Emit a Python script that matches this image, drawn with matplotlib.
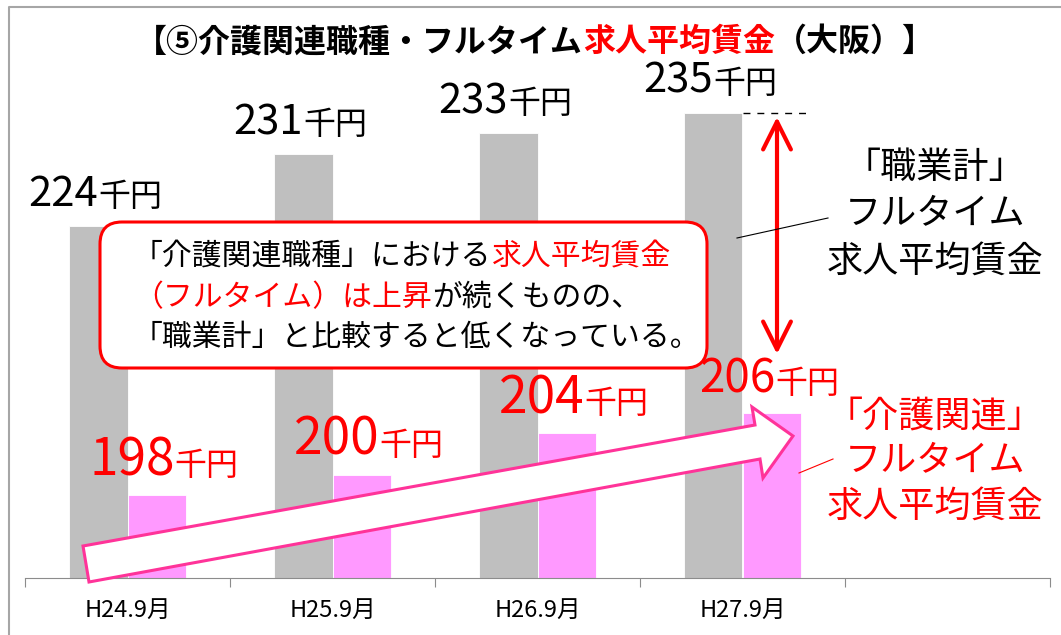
import matplotlib
matplotlib.use('Agg')
import matplotlib.pyplot as plt
from matplotlib.transforms import Affine2D
from matplotlib.patches import Polygon, FancyBboxPatch
from matplotlib.lines import Line2D
import numpy as np

plt.rcParams['font.family'] = ['Noto Sans CJK JP', 'DejaVu Sans']

# data
periods = ['H24.9月', 'H25.9月', 'H26.9月', 'H27.9月', '']
wage_all = [224, 231, 233, 235]   # 職業計 フルタイム (千円)
wage_care = [198, 200, 204, 206]  # 介護関連 フルタイム (千円)
unit = '千円'

RED = '#FF0000'
GRAY = '#BFBFBF'
PINK = '#FF99FF'

W, H = 1061, 635
fig = plt.figure(figsize=(W / 100, H / 100), dpi=100)
# pixel coords, origin top-left
PX = Affine2D().scale(1, -1).translate(0, H)

ax = fig.add_axes([25 / W, (H - 578) / H, 1025 / W, 517 / H])
x = np.arange(len(wage_all))
bw = 0.283
ax.bar(x - bw / 2, wage_all, bw, color=GRAY, edgecolor='white', lw=0.6, zorder=2)
ax.bar(x + bw / 2, wage_care, bw, color=PINK, edgecolor='white', lw=0.6, zorder=2)
ax.set_xlim(-0.5, len(periods) - 0.5)
ax.set_ylim(190, 240)
ax.patch.set_alpha(0)

for s in ['left', 'top', 'right']:
    ax.spines[s].set_visible(False)
ax.spines['bottom'].set_color('#8C8C8C')
ax.spines['bottom'].set_zorder(3)
ax.set_yticks([])
ax.set_xticks(np.arange(len(periods) + 1) - 0.5)
ax.set_xticklabels([])
ax.tick_params(axis='x', which='major', length=6.5, color='#8C8C8C')
ax.set_xticks(np.arange(len(periods)), minor=True)
ax.set_xticklabels(periods, minor=True)
ax.tick_params(axis='x', which='minor', length=0, pad=15, labelsize=17)

# value labels
for i, v in enumerate(wage_all):
    ax.annotate(str(v), (i - bw / 2, v), xytext=(-1, 20), textcoords='offset pixels',
                ha='right', va='baseline', fontsize=30)
    ax.annotate(unit, (i - bw / 2, v), xytext=(0, 20), textcoords='offset pixels',
                ha='left', va='baseline', fontsize=23)
care_dx = [18, 18, 18, 4]
care_fs = [37, 37, 37, 33]
for i, v in enumerate(wage_care):
    ax.annotate(str(v), (i + bw / 2, v), xytext=(care_dx[i], 20), textcoords='offset pixels',
                ha='right', va='baseline', fontsize=care_fs[i], color=RED)
    ax.annotate(unit, (i + bw / 2, v), xytext=(care_dx[i], 20), textcoords='offset pixels',
                ha='left', va='baseline', fontsize=23, color=RED)

# dashed level line at top of last gray bar
ax.hlines(wage_all[-1], len(wage_all) - 1, len(wage_all) - 1 + 0.32,
          colors='black', linestyles=(0, (5, 5)), lw=1)

# outer frame (only top/left visible)
fig.add_artist(Line2D([9, 9, W], [H, 7, 7], transform=PX, color='#A6A6A6', lw=1.5))

renderer = fig.canvas.get_renderer()


def rich_text(x0, y0, pieces, **kw):
    # pieces drawn one after another on the same baseline
    for s, c in pieces:
        t = fig.text(x0, y0, s, color=c, transform=PX, ha='left', va='baseline',
                     zorder=7, **kw)
        x0 += t.get_window_extent(renderer).width


# title
rich_text(135, 51, [('【⑤介護関連職種・フルタイム', 'black'), ('求人平均賃金', RED),
                    ('（大阪）】', 'black')], fontsize=23, fontweight='bold')

# rising block arrow
arrow = Polygon([(83, 546), (755, 425), (752, 407), (793, 436), (763, 478),
                 (760, 459), (89, 582)], closed=True, transform=PX,
                facecolor='white', edgecolor='#FF3399', lw=2.2, zorder=4)
fig.add_artist(arrow)

# comment box
box = FancyBboxPatch((100, 222), 607, 146, boxstyle='round,pad=0,rounding_size=22',
                     transform=PX, facecolor='white', edgecolor=RED, lw=2.2, zorder=5)
fig.add_artist(box)
rich_text(133, 265, [('「介護関連職種」における', 'black'), ('求人平均賃金', RED)], fontsize=21.5)
rich_text(133, 306, [('（フルタイム）は上昇', RED), ('が続くものの、', 'black')], fontsize=21.5)
rich_text(133, 346, [('「職業計」と比較すると低くなっている。', 'black')], fontsize=21.5)

# gap arrow
ax.annotate('', xy=(777, 117), xytext=(777, 354), xycoords=PX, textcoords=PX,
            arrowprops=dict(arrowstyle='<->,head_length=1.0,head_width=0.5',
                            mutation_scale=20, lw=3, color=RED,
                            shrinkA=0, shrinkB=0), annotation_clip=False)

# series notes
for yy, s in zip([168, 213, 262], ['「職業計」', 'フルタイム', '求人平均賃金']):
    fig.text(935, yy, s, transform=PX, ha='center', va='center', fontsize=26, zorder=7)
fig.add_artist(Line2D([737, 828], [238, 218], transform=PX, color='black', lw=0.8, zorder=6))
for yy, s in zip([417, 460, 507], ['「介護関連」', 'フルタイム', '求人平均賃金']):
    fig.text(935, yy, s, transform=PX, ha='center', va='center', fontsize=26,
             color=RED, zorder=7)
fig.add_artist(Line2D([799, 833], [473, 459], transform=PX, color=RED, lw=0.8, zorder=6))

fig.savefig('out.png', dpi=100)
